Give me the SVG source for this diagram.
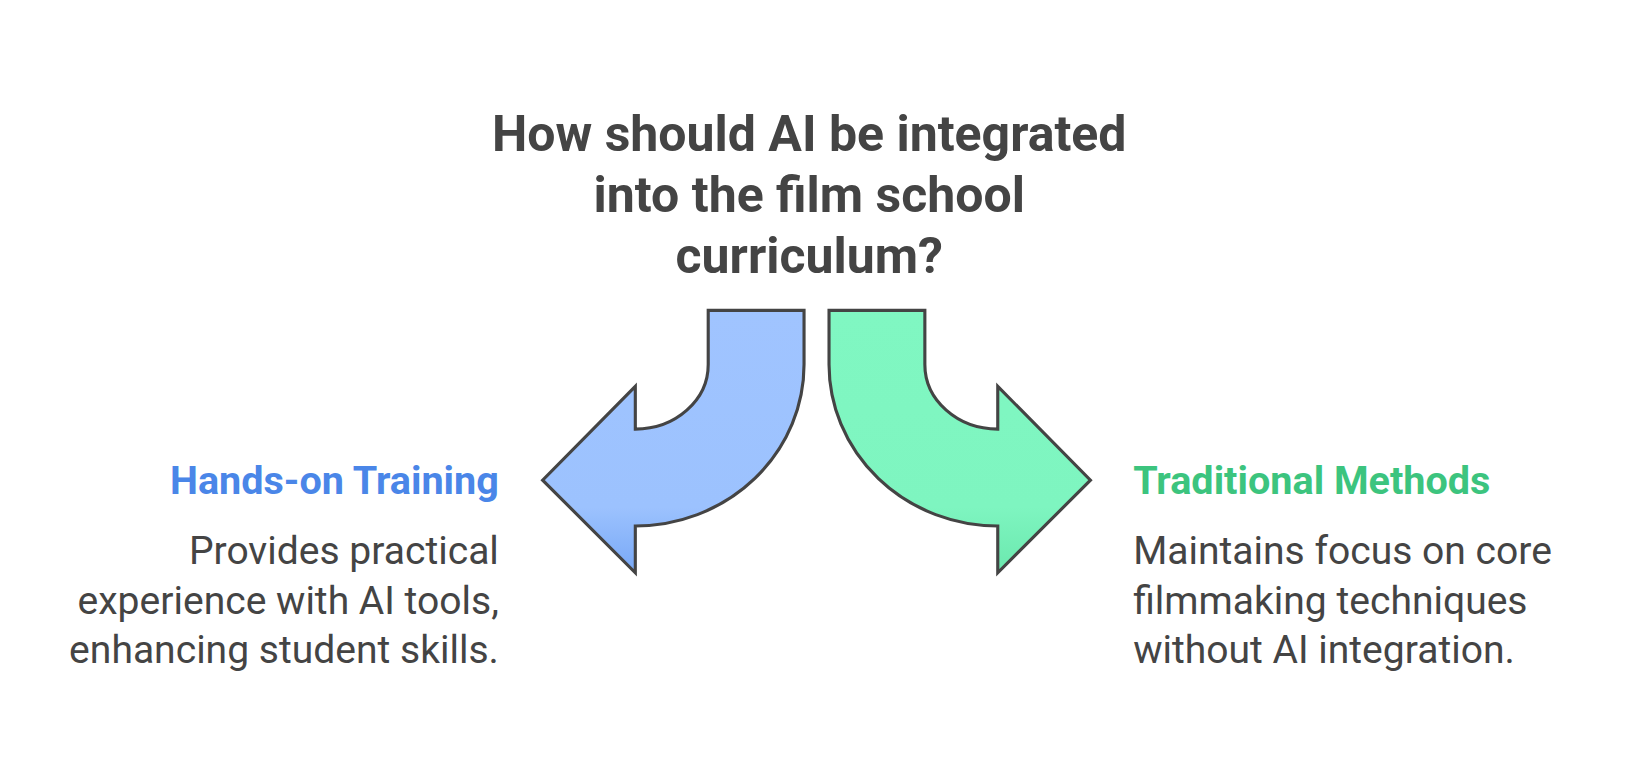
<svg xmlns="http://www.w3.org/2000/svg" width="1633" height="768" viewBox="0 0 1633 768">
<defs>
<linearGradient id="gb" x1="0" y1="0" x2="0" y2="1"><stop offset="0" stop-color="#a0c4ff"/><stop offset="0.75" stop-color="#9cc2fe"/><stop offset="1" stop-color="#78a8f6"/></linearGradient>
<linearGradient id="gg" x1="0" y1="0" x2="0" y2="1"><stop offset="0" stop-color="#80f7c2"/><stop offset="0.75" stop-color="#7ef5c0"/><stop offset="1" stop-color="#6be8ae"/></linearGradient>
<style>
.t{font-family:Roboto,"Liberation Sans",sans-serif;font-weight:bold;font-size:48px;fill:#444;text-anchor:middle}
.h{font-family:Roboto,"Liberation Sans",sans-serif;font-weight:bold;font-size:38px}
.d{font-family:Roboto,"Liberation Sans",sans-serif;font-size:37.5px;fill:#444}
.a{stroke:#444;stroke-width:3;stroke-linejoin:miter}
</style>
</defs>
<rect width="1633" height="768" fill="#fff"/>
<g transform="scale(1.0415)">
<g id="title"><text class="t" x="777" y="145">How should AI be integrated</text><text class="t" x="777" y="204">into the film school</text><text class="t" x="777" y="262">curriculum?</text></g>
<g id="connectors">
<path class="a" fill="url(#gb)" d="M680,298 L772,298 L772,350 A162,155 0 0 1 610,505 L610,550 L521,461 L610,371 L610,412 A70,62 0 0 0 680,350 Z"/>
<path class="a" fill="url(#gg)" d="M888,298 L796,298 L796,350 A162,155 0 0 0 958,505 L958,550 L1047,461 L958,371 L958,412 A70,62 0 0 1 888,350 Z"/>
</g>
<g id="left"><text class="h" x="479" y="474" text-anchor="end" fill="#4a86e8">Hands-on Training</text>
<text class="d" x="479" y="542" text-anchor="end">Provides practical</text><text class="d" x="479" y="590" text-anchor="end">experience with AI tools,</text><text class="d" x="479" y="637" text-anchor="end">enhancing student skills.</text></g>
<g id="right"><text class="h" x="1088" y="474" fill="#3cc47e">Traditional Methods</text>
<text class="d" x="1088" y="542">Maintains focus on core</text><text class="d" x="1088" y="590">filmmaking techniques</text><text class="d" x="1088" y="637">without AI integration.</text></g>
</g>
</svg>
